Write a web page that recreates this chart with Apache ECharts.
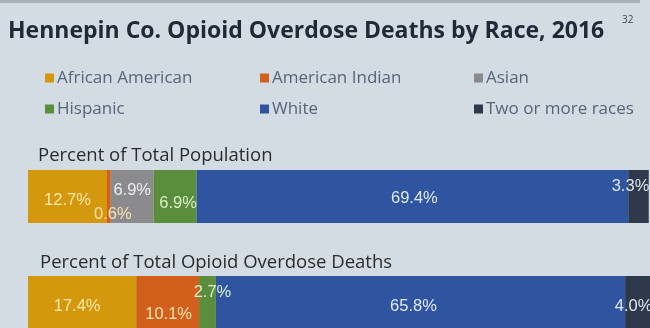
<!DOCTYPE html>
<html><head><meta charset="utf-8">
<script src="https://cdn.jsdelivr.net/npm/echarts@6/dist/echarts.min.js"></script>
<style>html,body{margin:0;padding:0;background:#d4dce3;}#c{width:650px;height:328px;}</style>
</head><body><div id="c"></div>
<script>
const categories = ['Percent of Total Population', 'Percent of Total Opioid Overdose Deaths'];
const seriesNames = ['African American', 'American Indian', 'Asian', 'Hispanic', 'White', 'Two or more races'];
const africanAmerican = [12.7, 17.4];
const americanIndian = [0.6, 10.1];
const asian = [6.9, 0];
const hispanic = [6.9, 2.7];
const white = [69.4, 65.8];
const twoOrMore = [3.3, 4.0];

const values = [africanAmerican, americanIndian, asian, hispanic, white, twoOrMore];
const colors = ['#d4980e', '#d2601c', '#8b8b8d', '#5b8e3c', '#2f55a0', '#2e394b'];
const labelColors = ['#f7e8a8', '#f7e3b0', '#eeeef4', '#d9f0c8', '#e2e9f6', '#dfe6f0'];
const labelOffsets = [
  [[0, 4], [-5, 4]],
  [[4, 18], [1, 12]],
  [[0, -6], [0, 0]],
  [[3, 7], [5, -10]],
  [[2, 2], [-7, 4]],
  [[-8, -10], [-4, 4]]
];

const series = seriesNames.map((name, s) => ({
  name: name,
  type: 'bar',
  stack: 'total',
  barWidth: 53,
  itemStyle: { color: colors[s] },
  label: {
    show: true,
    position: 'inside',
    fontSize: 16.5,
    fontFamily: 'Liberation Sans',
    color: labelColors[s],
    formatter: p => p.value ? p.value.toFixed(1) + '%' : ''
  },
  data: values[s].map((v, i) => ({ value: v, label: { offset: labelOffsets[s][i] } }))
}));

const legendStyle = {
  orient: 'vertical',
  selectedMode: false,
  icon: 'rect',
  itemWidth: 9,
  itemHeight: 9,
  itemGap: 11,
  top: 63,
  textStyle: { fontSize: 17, color: '#56657a', fontFamily: 'Open Sans', lineHeight: 20, padding: [0, 0, 0, -2] }
};

const chart = echarts.init(document.getElementById('c'));
chart.setOption({
  backgroundColor: '#d4dce3',
  animation: false,
  title: [
    { text: 'Hennepin Co. Opioid Overdose Deaths by Race, 2016', left: 3, top: 15,
      textStyle: { fontSize: 23, fontWeight: 'bold', color: '#1f2a36', fontFamily: 'Open Sans' } },
    { text: '32', left: 617, top: 10, textStyle: { fontSize: 10, fontWeight: 'normal', color: '#444', fontFamily: 'Open Sans' } },
    { text: categories[0], left: 33, top: 141, textStyle: { fontSize: 18.5, fontWeight: 'normal', color: '#2b2b2b', fontFamily: 'Open Sans' } },
    { text: categories[1], left: 35, top: 248, textStyle: { fontSize: 18.5, fontWeight: 'normal', color: '#2b2b2b', fontFamily: 'Open Sans' } }
  ],
  legend: [
    Object.assign({}, legendStyle, { left: 40, data: [seriesNames[0], seriesNames[3]] }),
    Object.assign({}, legendStyle, { left: 255, data: [seriesNames[1], seriesNames[4]] }),
    Object.assign({}, legendStyle, { left: 469, data: [seriesNames[2], seriesNames[5]] })
  ],
  graphic: [
    { type: 'rect', shape: { x: 0, y: 0, width: 640, height: 3 }, style: { fill: '#a9b1b9' } }
  ],
  grid: { left: 28, width: 622, top: 143.5, height: 212, outerBoundsMode: 'none', containLabel: false },
  xAxis: { type: 'value', min: 0, max: 100, show: false },
  yAxis: { type: 'category', data: categories, inverse: true, show: false },
  series: series
});
</script>
</body></html>
